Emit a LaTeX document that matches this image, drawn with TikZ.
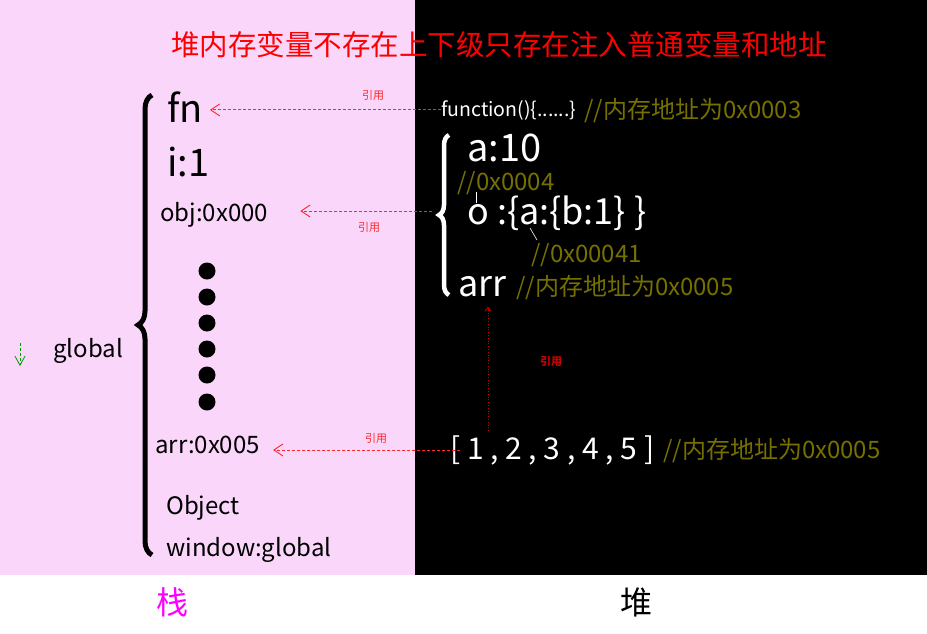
\documentclass[tikz,border=0pt]{standalone}
\usepackage{fontspec}
\setmainfont{Noto Sans CJK SC}
\usepackage{xcolor}
\usetikzlibrary{arrows.meta,decorations.pathreplacing,calc}
\definecolor{stackpink}{RGB}{250,214,250}
\definecolor{noteolive}{RGB}{118,112,0}
\definecolor{refred}{RGB}{255,40,40}
\definecolor{darkref}{RGB}{200,0,0}
\definecolor{stackmag}{RGB}{255,0,255}

\begin{document}
\begin{tikzpicture}[x=1pt,y=-1pt,
  >={Straight Barb[length=9pt,width=12pt]},
  stk/.style={anchor=base west,inner sep=0pt,font=\fontsize{24}{26}\selectfont},
  big/.style={anchor=base west,inner sep=0pt,font=\fontsize{38}{40}\selectfont},
  heap/.style={anchor=base west,inner sep=0pt,text=white},
  note/.style={anchor=base west,inner sep=0pt,text=noteolive,font=\fontsize{24}{26}\selectfont},
  ref/.style={->,refred,dash pattern=on 3pt off 2pt,line width=0.9pt},
  reflbl/.style={text=refred,font=\fontsize{11}{12}\selectfont}]
  \useasboundingbox (0,0) rectangle (927,633);
  \fill[white] (0,0) rectangle (927,633);
  \fill[stackpink] (0,0) rectangle (415,575);
  \fill[black] (415,0) rectangle (927,575);

  % title
  \node[anchor=base,inner sep=0pt,text=red,font=\fontsize{28.5}{30}\selectfont] (title) at (499,55) {堆内存变量不存在上下级只存在注入普通变量和地址};

  % stack side
  \node[big] (fn) at (167,122) {fn};
  \node[big] (ione) at (167,176) {i:1};
  \node[stk] (obj) at (160,221) {obj:0x000};
  \foreach \y in {271,297,323,349,375,402}
    \fill (207,\y) circle (8.5);
  \node[stk] (arrs) at (155,453) {arr:0x005};
  \node[stk] (object) at (166,514) {Object};
  \node[stk] (window) at (166,556) {window:global};
  \node[stk] (global) at (53,357) {global};
  \draw[decorate,decoration={brace,amplitude=14pt},line width=5pt] (152,555) -- (152,95);
  \coordinate (gtop) at (20,343);
  \coordinate (gbot) at (20,366);
  \draw[green!60!black,dash pattern=on 3pt off 2pt,line width=0.8pt,-{Straight Barb[length=9pt,width=10pt]}] (gtop) -- (gbot);

  % heap side
  \node[heap,font=\fontsize{19.5}{21}\selectfont] (func) at (441,116) {function()\{......\}};
  \node[note] (addr3) at (584,118) {//内存地址为0x0003};
  \node[heap,font=\fontsize{38}{40}\selectfont] (aten) at (467,161) {a:10};
  \node[note] (addr4) at (457,190) {//0x0004};
  \node[heap,font=\fontsize{36}{38}\selectfont] (onode) at (467,224) {o :\{a:\{b:1\} \}};
  \node[note] (addr41) at (531,262) {//0x00041};
  \node[heap,font=\fontsize{36}{38}\selectfont] (arrh) at (458,296) {arr};
  \node[note] (addr5) at (516,295) {//内存地址为0x0005};
  \node[heap,font=\fontsize{30}{32}\selectfont] (arrlist) at (450,459) {[ 1 , 2 , 3 , 4 , 5 ]};
  \node[note] (addr5b) at (663,458) {//内存地址为0x0005};
  \draw[decorate,decoration={brace,amplitude=10pt},line width=4.5pt,white] (449,295) -- (449,135);
  \coordinate (hbtip) at (432,211);
  \draw[white,line width=0.6pt] ($(addr4.base west)+(19,2)$) -- ++(0,11);
  \draw[white,line width=0.6pt] ($(addr41.base west)+(-1,-34)$) -- ($(addr41.base west)+(6,-22)$);

  % references
  \draw[ref,shorten >=7pt] (func.west) -- (func.west -| fn.east);
  \node[reflbl] (lbl1) at (373,95) {引用};
  \draw[ref,shorten >=32pt] (hbtip) -- (hbtip -| obj.east);
  \node[reflbl] (lbl2) at (369,227) {引用};
  \draw[ref,shorten <=-10pt,shorten >=13pt] (arrlist.west) -- (arrlist.west -| arrs.east);
  \node[reflbl] (lbl3) at (376,438) {引用};
  \draw[darkref,dotted,line width=0.8pt,-{Straight Barb[length=4pt,width=6pt]}] ($(arrlist.north west)+(38,-4)$) -- ($(arrh.south west)+(30,10)$);
  \node[reflbl,text=darkref,font=\bfseries\fontsize{11}{12}\selectfont] (lbl4) at (551,361) {引用};

  % captions
  \node[anchor=base,inner sep=0pt,text=stackmag,font=\fontsize{32}{34}\selectfont] (stacklbl) at (172,614) {栈};
  \node[anchor=base,inner sep=0pt,font=\fontsize{32}{34}\selectfont] (heaplbl) at (636,614) {堆};
\end{tikzpicture}
\end{document}
